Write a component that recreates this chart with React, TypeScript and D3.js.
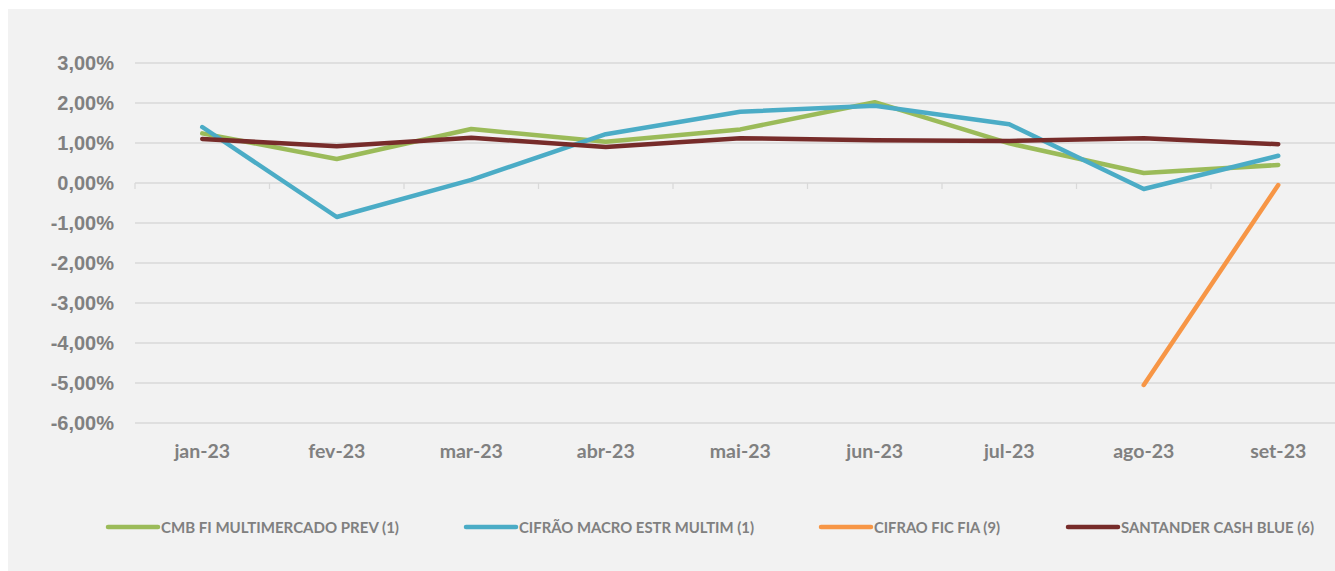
import { useRef, useEffect } from "react"
import * as d3 from "d3"

const months = ["jan-23", "fev-23", "mar-23", "abr-23", "mai-23", "jun-23", "jul-23", "ago-23", "set-23"]
const yTicks = [3, 2, 1, 0, -1, -2, -3, -4, -5, -6]

const cmbPrev = [1.24, 0.6, 1.35, 1.03, 1.34, 2.02, 0.99, 0.25, 0.45]
const cifraoMacro = [1.4, -0.85, 0.08, 1.22, 1.78, 1.93, 1.47, -0.15, 0.68]
const cifraoFia: (number | null)[] = [null, null, null, null, null, null, null, -5.05, -0.05]
const santanderCash = [1.1, 0.92, 1.13, 0.9, 1.12, 1.07, 1.05, 1.12, 0.97]

const seriesNames = [
  "CMB FI MULTIMERCADO PREV (1)",
  "CIFRÃO MACRO ESTR MULTIM (1)",
  "CIFRAO FIC FIA (9)",
  "SANTANDER CASH BLUE (6)",
]
const seriesColors = ["#9bbb59", "#4bacc6", "#f79646", "#772c2a"]

export default function App() {
  const svgRef = useRef<SVGSVGElement>(null)

  useEffect(() => {
    if (!svgRef.current) return
    const svg = d3.select(svgRef.current)
    svg.selectAll("*").remove()

    const W = 1335
    const H = 571
    const plot = { left: 135, right: 1345.5, top: 63, bottom: 423 }

    // background
    svg.append("rect").attr("width", W).attr("height", H).attr("fill", "#ffffff")
    svg.append("rect").attr("x", 8).attr("y", 9).attr("width", W - 8).attr("height", H - 9).attr("fill", "#f2f2f2")

    const x = d3.scaleBand().domain(months).range([plot.left, plot.right]).padding(0)
    const cx = (m: string) => (x(m) || 0) + x.bandwidth() / 2
    const y = d3.scaleLinear().domain([-6, 3]).range([plot.bottom, plot.top])

    // gridlines
    svg
      .append("g")
      .selectAll("line")
      .data(yTicks)
      .enter()
      .append("line")
      .attr("x1", plot.left)
      .attr("x2", plot.right)
      .attr("y1", (d) => y(d))
      .attr("y2", (d) => y(d))
      .attr("stroke", "#d9d9d9")
      .attr("stroke-width", 1.3)

    // category tick marks on zero line
    svg
      .append("g")
      .selectAll("line")
      .data(d3.range(months.length + 1))
      .enter()
      .append("line")
      .attr("x1", (i) => plot.left + i * x.bandwidth())
      .attr("x2", (i) => plot.left + i * x.bandwidth())
      .attr("y1", y(0))
      .attr("y2", y(0) + 6)
      .attr("stroke", "#d9d9d9")
      .attr("stroke-width", 1.3)

    // y labels
    const fmt = (v: number) => v.toFixed(2).replace(".", ",") + "%"
    svg
      .append("g")
      .selectAll("text")
      .data(yTicks)
      .enter()
      .append("text")
      .attr("x", 114)
      .attr("y", (d) => y(d))
      .attr("dy", "0.36em")
      .attr("text-anchor", "end")
      .style("font-family", "'Liberation Sans', Arial, sans-serif")
      .style("font-weight", "bold")
      .style("font-size", "20px")
      .attr("fill", "#808080")
      .text(fmt)

    // x labels
    svg
      .append("g")
      .selectAll("text")
      .data(months)
      .enter()
      .append("text")
      .attr("x", (d) => cx(d))
      .attr("y", 458)
      .attr("text-anchor", "middle")
      .style("font-family", "Lato, 'Open Sans', sans-serif")
      .style("font-weight", "bold")
      .style("font-size", "19.5px")
      .attr("fill", "#808080")
      .text((d) => d)

    // lines
    const allSeries = [cmbPrev, cifraoMacro, cifraoFia, santanderCash]
    const line = d3
      .line<number | null>()
      .defined((d) => d !== null)
      .x((_, i) => cx(months[i]))
      .y((d) => y(d as number))

    allSeries.forEach((s, i) => {
      svg
        .append("path")
        .datum(s)
        .attr("d", line)
        .attr("fill", "none")
        .attr("stroke", seriesColors[i])
        .attr("stroke-width", 4.5)
        .attr("stroke-linejoin", "round")
        .attr("stroke-linecap", "round")
    })

    // legend
    const legendX = [108, 466, 821, 1068]
    const legendTextW = [238, 235, 126, 193]
    const legend = svg.append("g")
    seriesNames.forEach((name, i) => {
      legend
        .append("line")
        .attr("x1", legendX[i])
        .attr("x2", legendX[i] + 50)
        .attr("y1", 527)
        .attr("y2", 527)
        .attr("stroke", seriesColors[i])
        .attr("stroke-width", 4.5)
        .attr("stroke-linecap", "round")
      legend
        .append("text")
        .attr("x", legendX[i] + 53)
        .attr("y", 527)
        .attr("dy", "0.36em")
        .attr("textLength", legendTextW[i])
        .attr("lengthAdjust", "spacingAndGlyphs")
        .style("font-family", "Lato, 'Open Sans', sans-serif")
        .style("font-weight", "bold")
        .style("font-size", "16px")
        .attr("fill", "#808080")
        .text(name)
    })
  }, [])

  return (
    <svg
      ref={svgRef}
      width={1335}
      height={571}
      style={{ position: "absolute", left: 0, top: 0, display: "block" }}
    />
  )
}
